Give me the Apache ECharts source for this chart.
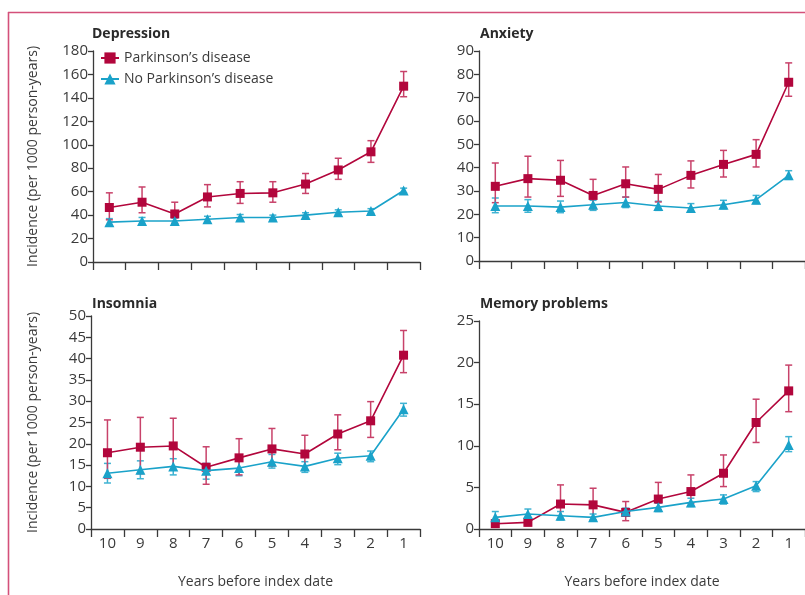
<!DOCTYPE html>
<html>
<head>
<meta charset="utf-8">
<style>
  html, body { margin: 0; padding: 0; background: #fff; }
  #chart { width: 805px; height: 595px; }
</style>
<script src="https://cdn.jsdelivr.net/npm/echarts@6/dist/echarts.min.js"></script>
</head>
<body>
<div id="chart"></div>
<script>
// Years before index date (category axis, left to right)
const years = ['10', '9', '8', '7', '6', '5', '4', '3', '2', '1'];

// Depression: incidence per 1000 person-years, with 95% CI
const depPD   = [46.5, 51, 41, 55.5, 58.5, 59, 66.5, 78.5, 94, 150];
const depPDLo = [36, 42, 33, 47, 50, 51, 58.5, 70.5, 85, 141];
const depPDHi = [59, 64, 51, 66, 68.5, 68.5, 75.5, 88.5, 103.5, 162.5];
const depNo   = [34, 35, 35, 36.5, 38, 38, 40, 42.5, 43.5, 61];
const depNoLo = [31, 32, 32.5, 34, 35.5, 36, 38, 40.5, 41.5, 59];
const depNoHi = [37, 38, 37.5, 39, 40.5, 40, 42, 44.5, 45.5, 63];

// Anxiety
const anxPD   = [32, 35.3, 34.6, 28.1, 33.1, 30.7, 36.7, 41.4, 45.7, 76.6];
const anxPDLo = [25, 27.4, 27.7, 22.4, 27.4, 25.3, 31.3, 36, 40.3, 70.6];
const anxPDHi = [42, 44.9, 43.1, 35, 40.3, 37.1, 42.9, 47.4, 52, 84.9];
const anxNo   = [23.6, 23.6, 23.1, 24.1, 25.1, 23.6, 22.7, 24.1, 26.3, 36.7];
const anxNoLo = [20.7, 20.9, 20.7, 21.7, 22.9, 21.7, 21, 22.4, 24.6, 35];
const anxNoHi = [27, 26.3, 25.7, 26, 27.4, 25.6, 24.6, 26, 28.1, 38.7];

// Insomnia
const insPD   = [17.9, 19.2, 19.5, 14.5, 16.7, 18.8, 17.6, 22.3, 25.4, 40.8];
const insPDLo = [11.9, 13, 13.9, 10.5, 12.7, 14.8, 13.9, 18.6, 21.5, 36.7];
const insPDHi = [25.6, 26.2, 26, 19.3, 21.2, 23.6, 22, 26.8, 29.9, 46.6];
const insNo   = [13.1, 13.9, 14.7, 13.7, 14.3, 15.8, 14.7, 16.6, 17.2, 28.1];
const insNoLo = [10.8, 11.8, 12.7, 11.7, 12.5, 14.3, 13.3, 15.1, 15.8, 26.5];
const insNoHi = [15.4, 16, 16.5, 15.4, 16.2, 17.5, 15.8, 17.8, 18.3, 29.5];

// Memory problems
const memPD   = [0.64, 0.8, 3.0, 2.9, 2.0, 3.6, 4.5, 6.7, 12.8, 16.6];
const memPDLo = [0.3, 0.4, 1.2, 1.1, 1.0, 2.3, 3.1, 5.1, 10.4, 14.1];
const memPDHi = [1.1, 1.3, 5.3, 4.9, 3.3, 5.6, 6.5, 8.9, 15.6, 19.7];
const memNo   = [1.4, 1.8, 1.6, 1.4, 2.1, 2.6, 3.2, 3.6, 5.2, 10.1];
const memNoLo = [0.9, 1.3, 1.1, 1.0, 1.6, 2.1, 2.7, 3.0, 4.5, 9.3];
const memNoHi = [2.1, 2.4, 2.1, 1.8, 2.5, 3.1, 3.7, 4.1, 5.7, 11.1];

// Panel titles and y-axis ranges
const panelTitles = ['Depression', 'Anxiety', 'Insomnia', 'Memory problems'];
const yMax = [180, 90, 50, 25];
const yStep = [20, 10, 5, 5];

const seriesNames = ['Parkinson\u2019s disease', 'No Parkinson\u2019s disease'];
const yName = 'Incidence (per 1000 person-years)';
const xName = 'Years before index date';

const FONT = '"Open Sans", "Noto Sans", sans-serif';
const AXIS_COLOR = '#3a3a3a';
const TEXT_COLOR = '#3a3a3a';
const PD_COLOR = '#b2063c';
const PD_BAR = '#c8426a';
const NO_COLOR = '#1aa2c9';
const NO_BAR = '#3fb3d3';

const panels = [
  { pd: depPD, pdLo: depPDLo, pdHi: depPDHi, no: depNo, noLo: depNoLo, noHi: depNoHi },
  { pd: anxPD, pdLo: anxPDLo, pdHi: anxPDHi, no: anxNo, noLo: anxNoLo, noHi: anxNoHi },
  { pd: insPD, pdLo: insPDLo, pdHi: insPDHi, no: insNo, noLo: insNoLo, noHi: insNoHi },
  { pd: memPD, pdLo: memPDLo, pdHi: memPDHi, no: memNo, noLo: memNoLo, noHi: memNoHi }
];

const grids = [
  { left: 93, top: 51, width: 327, height: 211 },
  { left: 479, top: 51, width: 326, height: 210 },
  { left: 91, top: 316, width: 329, height: 213 },
  { left: 479, top: 321, width: 326, height: 208 }
];

// Vertical confidence-interval whiskers with short caps
function errorBarSeries(idx, lo, hi, color, z) {
  return {
    type: 'custom',
    xAxisIndex: idx,
    yAxisIndex: idx,
    z: z,
    silent: true,
    encode: { x: 0, y: [1, 2] },
    data: lo.map((v, i) => [i, v, hi[i]]),
    renderItem: function (params, api) {
      const i = api.value(0);
      const pLo = api.coord([i, api.value(1)]);
      const pHi = api.coord([i, api.value(2)]);
      const half = 3.5;
      const style = { stroke: color, lineWidth: 1.5, fill: null };
      return {
        type: 'group',
        children: [
          { type: 'line', shape: { x1: pLo[0], y1: pLo[1], x2: pHi[0], y2: pHi[1] }, style: style },
          { type: 'line', shape: { x1: pHi[0] - half, y1: pHi[1], x2: pHi[0] + half, y2: pHi[1] }, style: style },
          { type: 'line', shape: { x1: pLo[0] - half, y1: pLo[1], x2: pLo[0] + half, y2: pLo[1] }, style: style }
        ]
      };
    }
  };
}

const xAxes = grids.map((g, idx) => ({
  type: 'category',
  gridIndex: idx,
  data: years,
  boundaryGap: true,
  axisLine: { lineStyle: { color: AXIS_COLOR, width: 1.3 } },
  axisTick: { show: true, length: 8, inside: false, lineStyle: { color: AXIS_COLOR, width: 1.3 } },
  axisLabel: {
    show: idx >= 2, color: TEXT_COLOR, fontFamily: FONT, fontSize: 15, margin: 7
  },
  name: idx >= 2 ? xName : '',
  nameLocation: 'middle',
  nameGap: 46,
  nameTextStyle: { color: TEXT_COLOR, fontFamily: FONT, fontSize: 14 }
}));

const yAxes = grids.map((g, idx) => ({
  type: 'value',
  gridIndex: idx,
  min: 0,
  max: yMax[idx],
  interval: yStep[idx],
  splitLine: { show: false },
  axisLine: { show: true, lineStyle: { color: AXIS_COLOR, width: 1.3 } },
  axisTick: { show: true, length: 5, lineStyle: { color: AXIS_COLOR, width: 1.3 } },
  axisLabel: { color: TEXT_COLOR, fontFamily: FONT, fontSize: 15, margin: 5 },
  name: (idx === 0 || idx === 2) ? yName : '',
  nameLocation: 'middle',
  nameRotate: 90,
  nameGap: idx === 0 ? 53 : 51,
  nameTextStyle: { color: TEXT_COLOR, fontFamily: FONT, fontSize: 14 }
}));

const series = [];
panels.forEach((p, idx) => {
  series.push(errorBarSeries(idx, p.noLo, p.noHi, NO_BAR, 1));
  series.push(errorBarSeries(idx, p.pdLo, p.pdHi, PD_BAR, 1));
  series.push({
    name: seriesNames[0],
    type: 'line',
    xAxisIndex: idx,
    yAxisIndex: idx,
    data: p.pd,
    z: 3,
    symbol: 'rect',
    symbolSize: 9,
    showAllSymbol: true,
    lineStyle: { color: PD_COLOR, width: 1.6 },
    itemStyle: { color: PD_COLOR },
    silent: true,
    animation: false
  });
  series.push({
    name: seriesNames[1],
    type: 'line',
    xAxisIndex: idx,
    yAxisIndex: idx,
    data: p.no,
    z: 4,
    symbol: 'triangle',
    symbolSize: 10,
    showAllSymbol: true,
    lineStyle: { color: NO_COLOR, width: 1.6 },
    itemStyle: { color: NO_COLOR },
    silent: true,
    animation: false
  });
});

const titleTops = [27, 27, 297, 297];
const titleLefts = [92, 480, 92, 480];

const option = {
  animation: false,
  backgroundColor: '#ffffff',
  title: panelTitles.map((t, i) => ({
    text: t,
    left: titleLefts[i],
    top: titleTops[i],
    padding: 0,
    textStyle: { color: '#2a2a2a', fontFamily: FONT, fontSize: 14, fontWeight: 'bold' }
  })),
  legend: {
    data: seriesNames,
    orient: 'vertical',
    left: 100,
    top: 51,
    padding: 0,
    itemGap: 7,
    itemWidth: 18,
    itemHeight: 14,
    textStyle: { color: TEXT_COLOR, fontFamily: FONT, fontSize: 14 }
  },
  grid: grids,
  xAxis: xAxes,
  yAxis: yAxes,
  series: series,
  graphic: [
    {
      type: 'line', silent: true,
      shape: { x1: 8, y1: 12.5, x2: 805, y2: 12.5 },
      style: { stroke: '#d4507a', lineWidth: 1.6 }
    },
    {
      type: 'line', silent: true,
      shape: { x1: 8.5, y1: 12, x2: 8.5, y2: 595 },
      style: { stroke: '#d4507a', lineWidth: 1.6 }
    }
  ]
};

const chart = echarts.init(document.getElementById('chart'), null, { renderer: 'canvas' });
chart.setOption(option);
</script>
</body>
</html>
